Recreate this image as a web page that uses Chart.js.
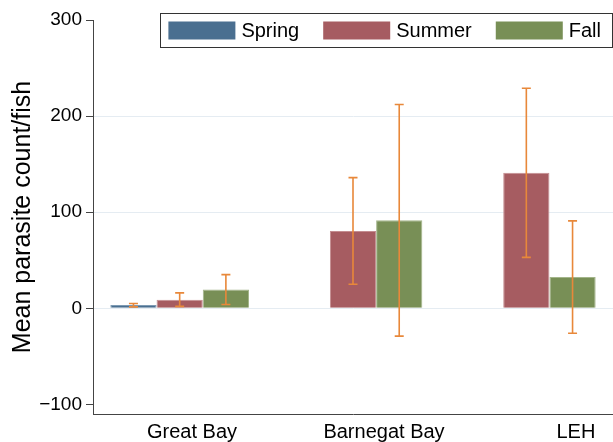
<!DOCTYPE html>
<html>
<head>
<meta charset="utf-8">
<script src="https://cdn.jsdelivr.net/npm/chart.js@4/dist/chart.umd.min.js"></script>
<style>
  html, body { margin: 0; padding: 0; background: #fff; }
  #c { display: block; }
</style>
</head>
<body>
<canvas id="c" width="613" height="442"></canvas>
<script>
// ---- data ----
const categories = ['Great Bay', 'Barnegat Bay', 'LEH'];
const seriesNames = ['Spring', 'Summer', 'Fall'];
const spring     = [3.5, null, null];
const springLow  = [1.5, null, null];
const springHigh = [5,   null, null];
const summer     = [9,   80.5, 141];
const summerLow  = [2,   25,   53];
const summerHigh = [16,  136,  229];
const fall       = [19.5, 91.5, 32.5];
const fallLow    = [4,   -29,  -26];
const fallHigh   = [35,  212,  91];
const yTicks = [-100, 0, 100, 200, 300];
const yTitle = 'Mean parasite count/fish';

const FONT = '"Liberation Sans", Arial, Helvetica, sans-serif';
const colors = ['#4a6f90', '#a65c61', '#788f56'];
const edges  = ['#7d9ab3', '#c48d90', '#a3b58a'];

const errorBars = {
  id: 'errorBars',
  afterDatasetsDraw(chart) {
    const ctx = chart.ctx;
    const y = chart.scales.y;
    chart.data.datasets.forEach((ds, di) => {
      const meta = chart.getDatasetMeta(di);
      if (meta.hidden) return;
      meta.data.forEach((bar, i) => {
        const lo = ds.errLow[i], hi = ds.errHigh[i];
        if (lo == null || hi == null) return;
        const y1 = y.getPixelForValue(lo), y2 = y.getPixelForValue(hi);
        const half = 4.5;
        ctx.save();
        ctx.strokeStyle = '#e8883a';
        ctx.lineWidth = 1.6;
        ctx.beginPath();
        ctx.moveTo(bar.x, y1); ctx.lineTo(bar.x, y2);
        ctx.moveTo(bar.x - half, y1); ctx.lineTo(bar.x + half, y1);
        ctx.moveTo(bar.x - half, y2); ctx.lineTo(bar.x + half, y2);
        ctx.stroke();
        ctx.restore();
      });
    });
  }
};

// legend drawn inside the plot, top-right, with a frame (Stata style)
const frameLegend = {
  id: 'frameLegend',
  afterDraw(chart) {
    const ctx = chart.ctx;
    const ca = chart.chartArea;
    const boxW = 67, boxH = 18, gap = 6, itemGap = 24, padL = 8, padR = 11, frameH = 34;
    ctx.save();
    ctx.font = '20px ' + FONT;
    const items = chart.data.datasets.map(ds => ({ label: ds.label, color: ds.backgroundColor, tw: ctx.measureText(ds.label).width }));
    let total = padL + padR;
    items.forEach((it, k) => { total += boxW + gap + it.tw + (k < items.length - 1 ? itemGap : 0); });
    const right = ca.right - 1;
    const left = right - total;
    const top = ca.top - 7;
    ctx.fillStyle = '#fff';
    ctx.fillRect(left, top, total, frameH);
    ctx.strokeStyle = '#333';
    ctx.lineWidth = 1;
    ctx.strokeRect(Math.round(left) + 0.5, Math.round(top) + 0.5, Math.round(total), frameH);
    let x = left + padL;
    const cy = top + frameH / 2 + 0.5;
    items.forEach(it => {
      ctx.fillStyle = it.color;
      ctx.fillRect(x, cy - boxH / 2, boxW, boxH);
      x += boxW + gap;
      ctx.fillStyle = '#000';
      ctx.textBaseline = 'middle';
      ctx.textAlign = 'left';
      ctx.fillText(it.label, x, cy + 1);
      x += it.tw + itemGap;
    });
    ctx.restore();
  }
};

const seriesVals = [spring, summer, fall];
const seriesLow = [springLow, summerLow, fallLow];
const seriesHigh = [springHigh, summerHigh, fallHigh];

new Chart(document.getElementById('c'), {
  type: 'bar',
  data: {
    labels: categories,
    datasets: seriesNames.map((n, k) => ({
      label: n,
      data: seriesVals[k],
      errLow: seriesLow[k],
      errHigh: seriesHigh[k],
      backgroundColor: colors[k],
      borderColor: edges[k],
      borderWidth: 1,
      categoryPercentage: 0.8,
      barPercentage: 1.0,
      xAxisID: 'x'
    }))
  },
  options: {
    responsive: false,
    animation: false,
    layout: { padding: { top: 20, right: 0, left: 0, bottom: 0 } },
    plugins: {
      tooltip: { enabled: false },
      legend: { display: false }
    },
    scales: {
      x: {
        type: 'category',
        display: false,
        offset: true,
        grid: { display: false }
      },
      x2: {
        type: 'linear',
        position: 'bottom',
        offset: false,
        bounds: 'data',
        min: 0.484,
        max: 3.193,
        grid: { display: false, drawTicks: false, offset: false },
        border: { display: true, color: '#444', width: 1 },
        afterBuildTicks: s => { s.ticks = categories.map((c, i) => ({ value: i + 1 })); },
        afterFit: s => { s.height = 28; },
        ticks: {
          autoSkip: false,
          maxRotation: 0,
          padding: 6,
          color: '#000',
          font: { family: FONT, size: 20 },
          callback: v => categories[Math.round(v) - 1]
        }
      },
      y: {
        min: -110,
        max: 300,
        afterBuildTicks: s => { s.ticks = yTicks.map(v => ({ value: v })); },
        afterFit: s => { s.width = 93; },
        border: { display: true, color: '#444', width: 1 },
        grid: {
          color: c => (c.tick && c.tick.value > yTicks[0] && c.tick.value < yTicks[yTicks.length - 1]) ? '#e5ecf2' : 'rgba(0,0,0,0)',
          tickColor: '#444',
          tickLength: 7,
          lineWidth: 1
        },
        ticks: {
          padding: 4,
          color: '#000',
          font: { family: FONT, size: 19 },
          callback: v => String(v).replace('-', '\u2212')
        },
        title: {
          display: true,
          text: yTitle,
          color: '#000',
          font: { family: FONT, size: 25 },
          padding: { top: 8, bottom: 0 }
        }
      }
    }
  },
  plugins: [errorBars, frameLegend]
});
</script>
</body>
</html>
